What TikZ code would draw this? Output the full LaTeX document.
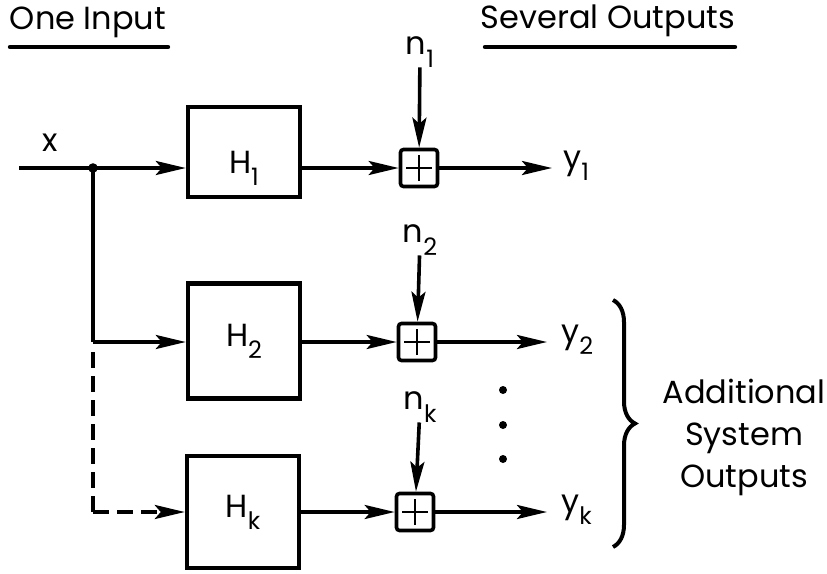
\documentclass[tikz,border=0pt]{standalone}
\usepackage{fontspec}
\setmainfont{Poppins}
\usetikzlibrary{arrows.meta,positioning,decorations.pathreplacing}
\newcommand{\lowidx}[1]{\raisebox{-0.7ex}{\fontsize{12}{12}\selectfont #1}}
\tikzset{
  lbl/.style={font=\fontsize{16}{20}\selectfont, inner sep=0pt},
  sysbox/.style={draw, line width=2.2pt, minimum width=56pt, inner sep=0pt, font=\fontsize{16}{20}\selectfont},
  adder/.style={draw, line width=1.8pt, rounded corners=1.5pt, minimum size=18.5pt, inner sep=0pt,
    path picture={\draw[line width=1.2pt] ([xshift=-6.5pt]path picture bounding box.center) -- ([xshift=6.5pt]path picture bounding box.center)
      ([yshift=-6.5pt]path picture bounding box.center) -- ([yshift=6.5pt]path picture bounding box.center);}},
  wire/.style={line width=1.8pt},
  arrow/.style={wire, -{Stealth[length=15pt, width=7pt, inset=3pt]}},
  rule/.style={line width=2.2pt, line cap=round}
}

\begin{document}
\begin{tikzpicture}[x=0.5pt, y=-0.5pt]
  \useasboundingbox (0,0) rectangle (827,574);

  % headings
  \node[lbl] (oneIn) at (88,22) {One Input};
  \node[lbl] (sevOut) at (608,21) {Several Outputs};
  \draw[rule] (10,47) -- (168,47);
  \draw[rule] (485,47) -- (735,47);

  % input and branch point
  \coordinate (xin) at (19,168);
  \coordinate (junc) at (93,168);
  \coordinate (juncB) at (93,342);
  \coordinate (juncK) at (93,512);
  \node[lbl] (xlbl) at (50,143) {x};
  \fill (junc) circle (2.4pt);

  % systems
  \node[sysbox, minimum height=45pt, label={[lbl, yshift=-8pt]center:H\lowidx{1}}] (H1) at (244,152) {};
  \node[sysbox, minimum height=57.5pt] (H2) at (244,341) {H\lowidx{2}};
  \node[sysbox, minimum height=56pt] (Hk) at (243,512) {H\lowidx{k}};

  % adders
  \node[adder] (S1) at (419,168) {};
  \node[adder] (S2) at (417,342) {};
  \node[adder] (Sk) at (415,512) {};

  % noise
  \node[lbl] (n1) at (420,52) {n\lowidx{1}};
  \node[lbl] (n2) at (420,240) {n\lowidx{2}};
  \node[lbl] (nk) at (420,407) {n\lowidx{k}};

  % outputs
  \node[lbl, anchor=west, inner xsep=5.5pt] (y1) at (552,166) {y\lowidx{1}};
  \node[lbl, anchor=west, inner xsep=7pt] (y2) at (547,340) {y\lowidx{2}};
  \node[lbl, anchor=west, inner xsep=7pt] (yk) at (547,510) {y\lowidx{k}};

  \draw[wire] (xin) -- (junc);
  \draw[arrow] (junc) -- (H1.west |- junc);
  \draw[wire] (junc) -- (juncB);
  \draw[arrow] (juncB) -- (H2.west |- juncB);
  \draw[wire, dash pattern=on 8pt off 4pt] (juncB) ++(0,10) -- (juncK);
  \draw[arrow, dash pattern=on 8pt off 4pt] (juncK) -- (Hk.west |- juncK);

  \draw[arrow] (H1.east |- S1) -- (S1);
  \draw[arrow] (H2.east |- S2) -- (S2);
  \draw[arrow] (Hk.east |- Sk) -- (Sk);

  \draw[arrow] (n1) -- (S1);
  \draw[arrow] (n2) -- (S2);
  \draw[arrow] (nk) -- (Sk);

  \draw[arrow] (S1) -- (y1.west |- S1);
  \draw[arrow] (S2) -- (y2.west |- S2);
  \draw[arrow] (Sk) -- (yk.west |- Sk);

  % more outputs
  \foreach \yy in {390,425,459}
    \fill (503,\yy) circle (2pt);
  \coordinate (brTop) at (613,300);
  \coordinate (brBot) at (613,547);
  \draw[line width=2pt, decorate, decoration={brace, amplitude=11pt}] (brTop) -- (brBot);
  \node[lbl, align=center] (addOut) at (744,437) {Additional\\[1pt]System\\[1pt]Outputs};
\end{tikzpicture}
\end{document}
